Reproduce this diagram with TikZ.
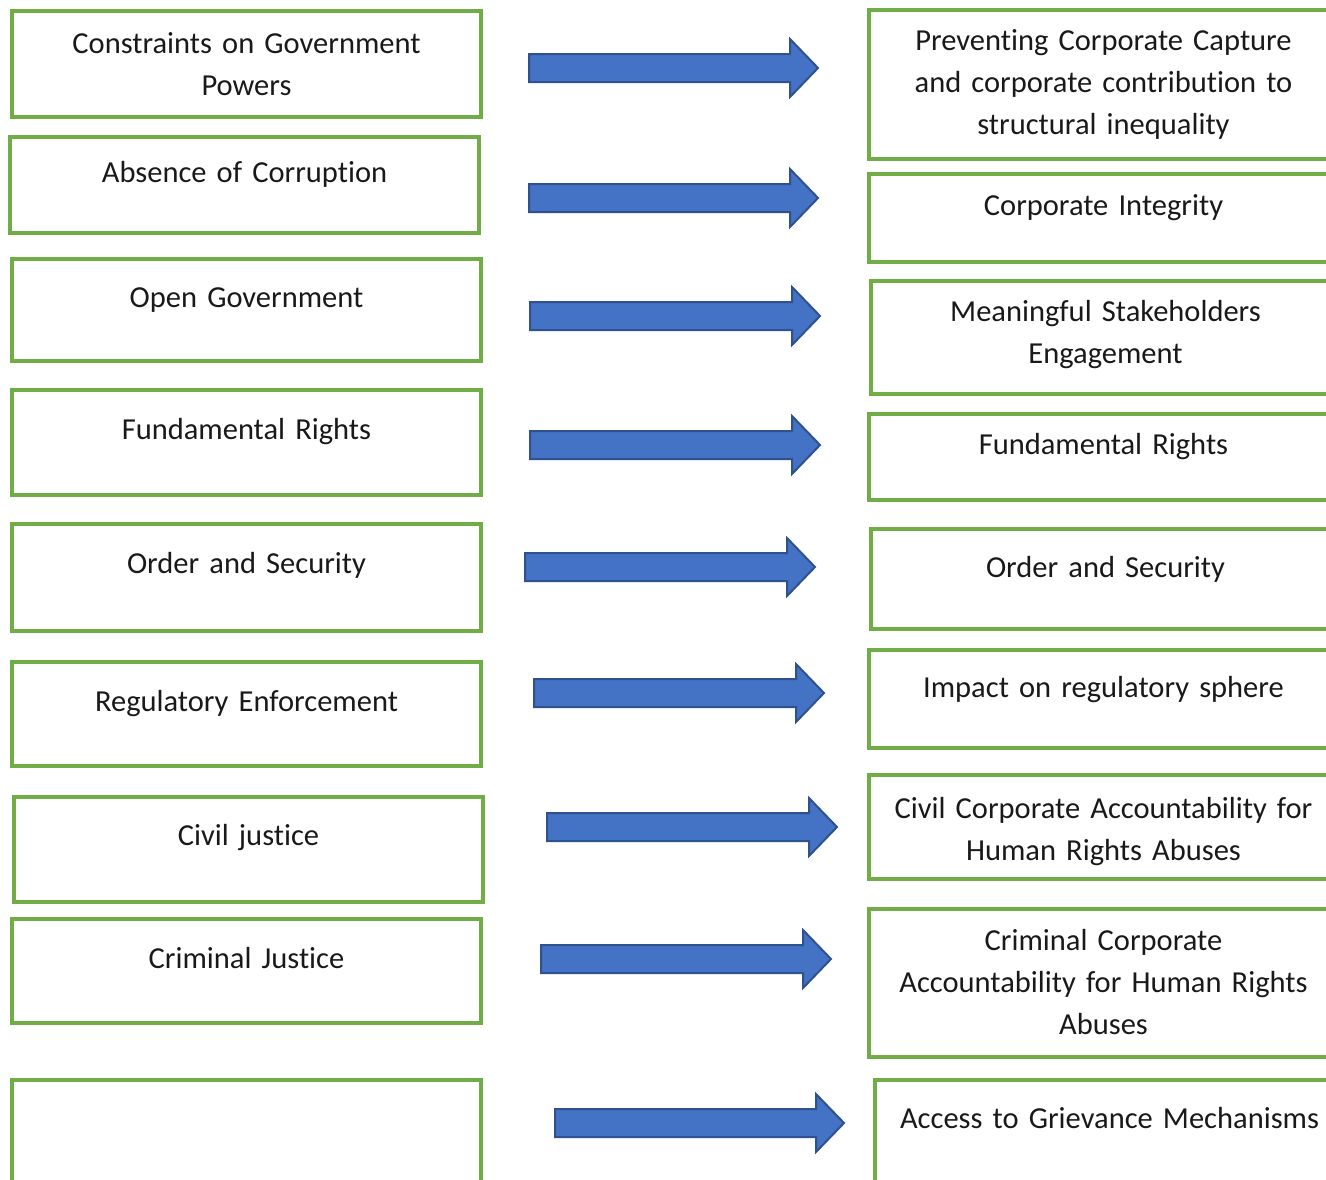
\documentclass[tikz,border=0pt]{standalone}
\usepackage{fontspec}
\setmainfont{Carlito}[Ligatures={NoCommon,NoRare}, Contextuals=NoAlternate]
\usepackage{tikz}
\usetikzlibrary{positioning, calc}
\definecolor{boxgreen}{HTML}{70AD47}
\definecolor{arrowfill}{HTML}{4472C4}
\definecolor{arrowedge}{HTML}{2F528F}
\tikzstyle{greenbox} = [rectangle, draw=boxgreen, line width=3.2, minimum width=469, anchor=north west, outer sep=0, inner sep=0]
\tikzstyle{boxtext} = [text width=466, align=center, inner sep=0, text height=20, text=black!90, font=\fontsize{30.5}{42}\selectfont]
\tikzstyle{fatarrow} = [draw=arrowedge, fill=arrowfill, line width=2, line join=miter, to path={($(\tikztostart)+(0,-14)$) -- ($(\tikztotarget)+(-28,-14)$) -- ($(\tikztotarget)+(-28,-29)$) -- (\tikztotarget) -- ($(\tikztotarget)+(-28,29)$) -- ($(\tikztotarget)+(-28,14)$) -- ($(\tikztostart)+(0,14)$) -- cycle}]
\begin{document}
\begin{tikzpicture}[x=1pt, y=-1pt]
        \useasboundingbox (0,0) rectangle (1326,1179);
        \clip (0,0) rectangle (1326,1179);
        \node (lb1) [greenbox, minimum height=106] at (12,11) {};
        \node (lb2) [greenbox, minimum height=96] at (10,137) {};
        \node (lb3) [greenbox, minimum height=102] at (12,259) {};
        \node (lb4) [greenbox, minimum height=105] at (12,390) {};
        \node (lb5) [greenbox, minimum height=107] at (12,524) {};
        \node (lb6) [greenbox, minimum height=104] at (12,662) {};
        \node (lb7) [greenbox, minimum height=105] at (14,797) {};
        \node (lb8) [greenbox, minimum height=104] at (12,919) {};
        \node (lb9) [greenbox, minimum height=110] at (12,1080) {};
        \node (rb1) [greenbox, minimum height=149] at (869,10) {};
        \node (rb2) [greenbox, minimum height=88] at (869,174) {};
        \node (rb3) [greenbox, minimum height=113] at (871,281) {};
        \node (rb4) [greenbox, minimum height=86] at (869,414) {};
        \node (rb5) [greenbox, minimum height=100] at (871,529) {};
        \node (rb6) [greenbox, minimum height=98] at (869,650) {};
        \node (rb7) [greenbox, minimum height=104] at (869,775) {};
        \node (rb8) [greenbox, minimum height=148] at (869,909) {};
        \node (rb9) [greenbox, minimum height=110] at (875,1080) {};
        \node (lt1) [boxtext, below=22pt of lb1.north] {Constraints on Government\\Powers};
        \node (lt2) [boxtext, below=25pt of lb2.north] {Absence of Corruption};
        \node (lt3) [boxtext, below=28pt of lb3.north] {Open Government};
        \node (lt4) [boxtext, below=29pt of lb4.north] {Fundamental Rights};
        \node (lt5) [boxtext, below=29pt of lb5.north] {Order and Security};
        \node (lt6) [boxtext, below=29pt of lb6.north] {Regulatory Enforcement};
        \node (lt7) [boxtext, below=28pt of lb7.north] {Civil justice};
        \node (lt8) [boxtext, below=29pt of lb8.north] {Criminal Justice};
        \node (rt1) [boxtext, below=20pt of rb1.north] {Preventing Corporate Capture\\and corporate contribution to\\structural inequality};
        \node (rt2) [boxtext, below=21pt of rb2.north] {Corporate Integrity};
        \node (rt3) [boxtext, below=20pt of rb3.north] {Meaningful Stakeholders\\Engagement};
        \node (rt4) [boxtext, below=20pt of rb4.north] {Fundamental Rights};
        \node (rt5) [boxtext, below=28pt of rb5.north] {Order and Security};
        \node (rt6) [boxtext, below=27pt of rb6.north] {Impact on regulatory sphere};
        \node (rt7) [boxtext, below=23pt of rb7.north] {Civil Corporate Accountability for\\Human Rights Abuses};
        \node (rt8) [boxtext, below=21pt of rb8.north] {Criminal Corporate\\Accountability for Human Rights\\Abuses};
        \node (rt9) [boxtext, below=28pt of rb9.north] {Access to Grievance Mechanisms};
        \coordinate (s1) at (529,68);
        \coordinate (e1) at (818,68);
        \coordinate (s2) at (529,198);
        \coordinate (e2) at (818,198);
        \coordinate (s3) at (530,316);
        \coordinate (e3) at (820,316);
        \coordinate (s4) at (530,445);
        \coordinate (e4) at (820,445);
        \coordinate (s5) at (525,567);
        \coordinate (e5) at (815,567);
        \coordinate (s6) at (534,693);
        \coordinate (e6) at (824,693);
        \coordinate (s7) at (547,827);
        \coordinate (e7) at (837,827);
        \coordinate (s8) at (541,959);
        \coordinate (e8) at (831,959);
        \coordinate (s9) at (555,1123);
        \coordinate (e9) at (844,1123);
        \draw [fatarrow] (s1) to (e1);
        \draw [fatarrow] (s2) to (e2);
        \draw [fatarrow] (s3) to (e3);
        \draw [fatarrow] (s4) to (e4);
        \draw [fatarrow] (s5) to (e5);
        \draw [fatarrow] (s6) to (e6);
        \draw [fatarrow] (s7) to (e7);
        \draw [fatarrow] (s8) to (e8);
        \draw [fatarrow] (s9) to (e9);
\end{tikzpicture}
\end{document}
